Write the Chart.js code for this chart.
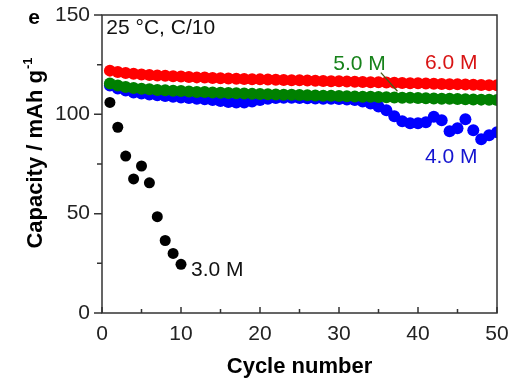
<!DOCTYPE html>
<html>
<head>
<meta charset="utf-8">
<script src="https://cdn.jsdelivr.net/npm/chart.js@4.4.1/dist/chart.umd.min.js"></script>
<style>
    html, body { margin: 0; padding: 0; background: #fff; }
    #wrap { width: 512px; height: 379px; position: relative; }
</style>
</head>
<body>
<div id="wrap"><canvas id="capChart"></canvas></div>
<script>
// capacity (mAh/g) per cycle
const cap6M = [122.0, 121.3, 120.8, 120.4, 120.1, 119.8, 119.6, 119.4, 119.2, 119.0,
               118.8, 118.6, 118.5, 118.3, 118.2, 118.0, 117.9, 117.8, 117.7, 117.6,
               117.5, 117.4, 117.3, 117.2, 117.1, 117.0, 116.9, 116.8, 116.7, 116.6,
               116.5, 116.4, 116.3, 116.2, 116.1, 116.0, 115.9, 115.8, 115.7, 115.6,
               115.5, 115.4, 115.3, 115.2, 115.1, 115.0, 114.9, 114.8, 114.7, 114.6];
const cap5M = [115.5, 114.5, 113.8, 113.3, 112.9, 112.6, 112.3, 112.1, 111.9, 111.7,
               111.5, 111.3, 111.2, 111.0, 110.9, 110.7, 110.6, 110.5, 110.3, 110.2,
               110.1, 110.0, 109.9, 109.8, 109.7, 109.6, 109.5, 109.4, 109.3, 109.2,
               109.1, 109.0, 108.9, 108.8, 108.7, 108.6, 108.5, 108.4, 108.3, 108.2,
               108.1, 108.0, 107.9, 107.8, 107.7, 107.6, 107.5, 107.4, 107.3, 107.2];
const cap4M = [114.5, 113.0, 112.0, 111.0, 110.5, 110.0, 109.6, 109.2, 108.8, 108.5,
               108.2, 107.9, 107.6, 107.2, 106.7, 106.2, 106.0, 106.0, 106.5, 107.2,
               107.8, 108.2, 108.3, 108.3, 108.2, 108.1, 108.0, 107.9, 107.8, 107.7,
               107.5, 107.2, 106.5, 105.5, 104.0, 102.0, 99.0, 96.5, 95.5, 95.5,
               96.0, 98.8, 97.0, 91.5, 93.0, 97.5, 92.0, 87.5, 89.5, 91.0];
const cap3M = [106.0, 93.5, 79.0, 67.5, 74.0, 65.5, 48.5, 36.5, 30.0, 24.5];

const seriesNames = ['6.0 M', '5.0 M', '4.0 M', '3.0 M'];
const seriesColors = ['#ff0000', '#008000', '#0000ff', '#000000'];

const xMax = 50;
const yMax = 150;

// text placed in data coordinates
const notes = [
    { text: '6.0 M', x: 44.2, y: 125.6, color: '#d81414', align: 'center' },
    { text: '5.0 M', x: 32.6, y: 125.4, color: '#16821a', align: 'center' },
    { text: '4.0 M', x: 44.2, y: 78.3, color: '#1414d0', align: 'center' },
    { text: '3.0 M', x: 14.6, y: 21.6, color: '#111', align: 'center' },
    { text: '25 °C, C/10', x: 0.55, y: 143.2, color: '#111', align: 'left' }
];
const leader = { x1: 35.3, y1: 121.0, x2: 37.4, y2: 111.6 };

const FONT = "'Liberation Sans', Arial, sans-serif";

function toPoints(arr) {
    return arr.map((v, i) => ({ x: i + 1, y: v }));
}

const decorPlugin = {
    id: 'decor',
    afterDraw(chart) {
        const { ctx, chartArea: a, scales } = chart;
        const xs = scales.x, ys = scales.y;
        ctx.save();

        ctx.strokeStyle = '#333';
        ctx.lineWidth = 1.5;
        ctx.strokeRect(a.left, a.top, a.right - a.left, a.bottom - a.top);

        ctx.beginPath();
        for (let v = 0; v <= yMax; v += 25) {
            const py = ys.getPixelForValue(v);
            const len = v % 50 === 0 ? 8 : 5;
            ctx.moveTo(a.left - len, py);
            ctx.lineTo(a.left, py);
        }
        for (let v = 0; v <= xMax; v += 5) {
            const px = xs.getPixelForValue(v);
            const len = v % 10 === 0 ? 6 : 4;
            ctx.moveTo(px, a.bottom);
            ctx.lineTo(px, a.bottom - len);
        }
        ctx.stroke();

        // leader line to the 5.0 M curve
        ctx.strokeStyle = '#4d5a18';
        ctx.lineWidth = 1.3;
        ctx.beginPath();
        ctx.moveTo(xs.getPixelForValue(leader.x1), ys.getPixelForValue(leader.y1));
        ctx.lineTo(xs.getPixelForValue(leader.x2), ys.getPixelForValue(leader.y2));
        ctx.stroke();

        ctx.font = `21px ${FONT}`;
        ctx.textBaseline = 'middle';
        notes.forEach(n => {
            ctx.fillStyle = n.color;
            ctx.textAlign = n.align;
            ctx.fillText(n.text, xs.getPixelForValue(n.x), ys.getPixelForValue(n.y));
        });

        // panel letter
        ctx.fillStyle = '#000';
        ctx.font = `bold 21px ${FONT}`;
        ctx.textAlign = 'center';
        ctx.fillText('e', 34, 18);

        // x title
        ctx.font = `bold 22px ${FONT}`;
        ctx.textBaseline = 'alphabetic';
        ctx.fillText('Cycle number', (a.left + a.right) / 2, 373);

        // y title with superscript
        const main = 'Capacity / mAh g';
        const sup = '-1';
        ctx.font = `bold 22px ${FONT}`;
        const wMain = ctx.measureText(main).width;
        ctx.font = `bold 13px ${FONT}`;
        const wSup = ctx.measureText(sup).width;
        const total = wMain + wSup + 1;
        const cy = 153;
        ctx.translate(42, cy);
        ctx.rotate(-Math.PI / 2);
        ctx.textAlign = 'left';
        ctx.font = `bold 22px ${FONT}`;
        ctx.fillText(main, -total / 2, 0);
        ctx.font = `bold 13px ${FONT}`;
        ctx.fillText(sup, -total / 2 + wMain + 1, -10);

        ctx.restore();
    }
};

const datasets = [cap6M, cap5M, cap4M, cap3M].map((arr, i) => ({
    label: seriesNames[i],
    data: toPoints(arr),
    showLine: false,
    pointRadius: i === 3 ? 5.5 : 6,
    pointHoverRadius: 6,
    pointBorderWidth: 0,
    pointBackgroundColor: seriesColors[i],
    borderColor: seriesColors[i],
    backgroundColor: seriesColors[i]
}));

new Chart(document.getElementById('capChart').getContext('2d'), {
    type: 'scatter',
    data: { datasets: datasets },
    options: {
        responsive: true,
        maintainAspectRatio: false,
        animation: false,
        layout: { padding: { left: 0, top: 15, right: 15, bottom: 0 } },
        plugins: {
            legend: { display: false },
            tooltip: { enabled: false }
        },
        scales: {
            x: {
                type: 'linear',
                min: 0,
                max: xMax,
                grid: { display: false, drawTicks: false },
                border: { display: false },
                ticks: {
                    stepSize: 10,
                    padding: 9,
                    color: '#222',
                    font: { family: FONT, size: 21 }
                },
                afterFit: s => { s.height = 66; s.paddingLeft = 0; s.paddingRight = 0; }
            },
            y: {
                min: 0,
                max: yMax,
                grid: { display: false, drawTicks: false },
                border: { display: false },
                ticks: {
                    stepSize: 50,
                    padding: 12,
                    color: '#222',
                    font: { family: FONT, size: 21 }
                },
                afterFit: s => { s.width = 102; s.paddingTop = 0; s.paddingBottom = 0; }
            }
        }
    },
    plugins: [decorPlugin]
});
</script>
</body>
</html>
